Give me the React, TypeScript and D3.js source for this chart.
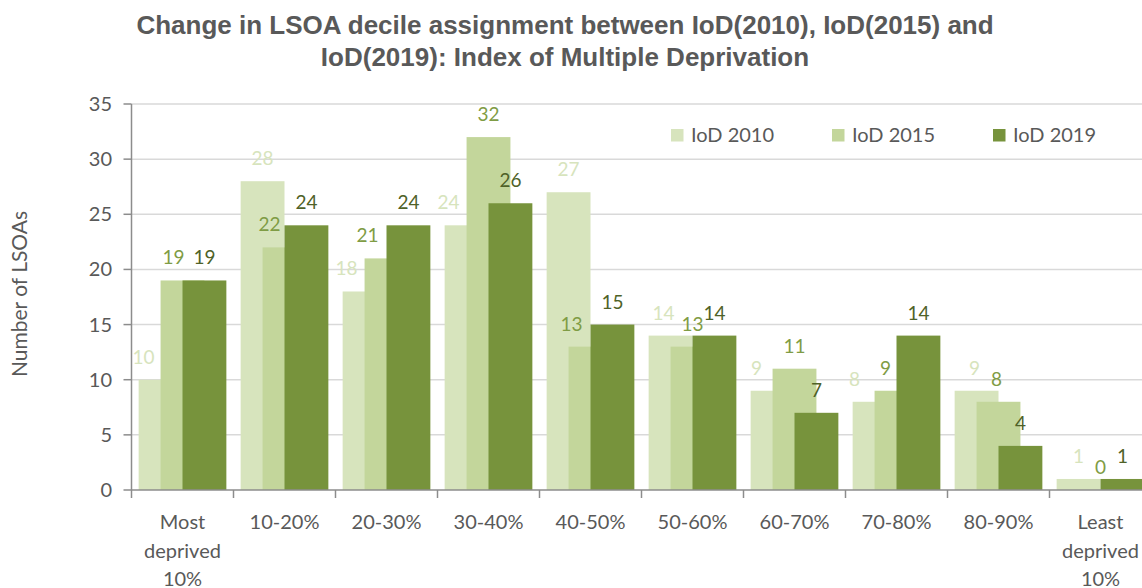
import React, { useEffect, useRef } from 'react';
import * as d3 from 'd3';

// Categories (LSOA deciles)
const categories = [
  'Most deprived 10%', '10-20%', '20-30%', '30-40%', '40-50%',
  '50-60%', '60-70%', '70-80%', '80-90%', 'Least deprived 10%'
];
const categoryLines = [
  ['Most', 'deprived', '10%'], ['10-20%'], ['20-30%'], ['30-40%'], ['40-50%'],
  ['50-60%'], ['60-70%'], ['70-80%'], ['80-90%'], ['Least', 'deprived', '10%']
];

const seriesNames = ['IoD 2010', 'IoD 2015', 'IoD 2019'];
const iod2010 = [10, 28, 18, 24, 27, 14, 9, 8, 9, 1];
const iod2015 = [19, 22, 21, 32, 13, 13, 11, 9, 8, 0];
const iod2019 = [19, 24, 24, 26, 15, 14, 7, 14, 4, 1];

const yTicks = [0, 5, 10, 15, 20, 25, 30, 35];

// data labels were dragged sideways in the original so they don't collide
const labelNudge2010 = [-17, 0, -18, -18, 0, -7, -16, -20, -2, 0];
const labelNudge2015 = [-9, -15, -19, 0, -19, 0, 0, -11, -2, 0];
const labelNudge2019 = [0, 0, 0, 0, 0, 0, 0, 0, 0, 0];

const barColors = ['#d7e4bd', '#c3d69b', '#77933c'];
const labelColors = ['#d7e4bd', '#7f9c45', '#4f6228'];
const textGrey = '#595959';
const font = "Lato, 'Open Sans', sans-serif";

export default function App() {
  const svgRef = useRef<SVGSVGElement | null>(null);
  const width = 1142;
  const height = 588;

  useEffect(() => {
    if (!svgRef.current) return;
    const svg = d3.select(svgRef.current);
    svg.selectAll('*').remove();

    const left = 131.5;
    const bottom = 490;
    const top = 104;

    const x = d3.scaleBand<string>()
      .domain(categories)
      .range([left, left + 102 * categories.length])
      .padding(0);
    const y = d3.scaleLinear().domain([0, 35]).range([bottom, top]);

    const bw = x.bandwidth();
    const pad = bw * 0.07;
    const barW = (bw - 2 * pad) / 2;
    const step = barW / 2;

    // Gridlines
    svg.append('g')
      .selectAll('line')
      .data(yTicks.filter(t => t > 0))
      .enter()
      .append('line')
      .attr('x1', left)
      .attr('x2', width)
      .attr('y1', d => y(d))
      .attr('y2', d => y(d))
      .attr('stroke', '#d9d9d9')
      .attr('stroke-width', 1.5);

    // Bars, drawn in series order so later ones overlap earlier ones
    const series = [iod2010, iod2015, iod2019];
    const nudges = [labelNudge2010, labelNudge2015, labelNudge2019];

    series.forEach((vals, si) => {
      svg.append('g')
        .selectAll('rect')
        .data(vals)
        .enter()
        .append('rect')
        .attr('x', (d, i) => (x(categories[i]) as number) + pad + si * step)
        .attr('y', d => y(d))
        .attr('width', barW)
        .attr('height', d => bottom - y(d))
        .attr('fill', barColors[si]);
    });

    // Data labels
    series.forEach((vals, si) => {
      svg.append('g')
        .selectAll('text')
        .data(vals)
        .enter()
        .append('text')
        .attr('x', (d, i) => (x(categories[i]) as number) + pad + si * step + barW / 2 + nudges[si][i])
        .attr('y', d => y(d) - 16)
        .attr('text-anchor', 'middle')
        .attr('fill', labelColors[si])
        .attr('font-family', font)
        .attr('font-size', '19px')
        .text(d => d);
    });

    // Axes
    const axisColor = '#8c8c8c';
    svg.append('line')
      .attr('x1', left).attr('x2', width)
      .attr('y1', bottom).attr('y2', bottom)
      .attr('stroke', axisColor).attr('stroke-width', 1.5);
    svg.append('line')
      .attr('x1', left).attr('x2', left)
      .attr('y1', top).attr('y2', bottom)
      .attr('stroke', axisColor).attr('stroke-width', 1.5);

    // Y ticks + labels
    const yt = svg.append('g');
    yTicks.forEach(t => {
      yt.append('line')
        .attr('x1', left - 8).attr('x2', left)
        .attr('y1', y(t)).attr('y2', y(t))
        .attr('stroke', axisColor).attr('stroke-width', 1.5);
      yt.append('text')
        .attr('x', 112)
        .attr('y', y(t) + 7)
        .attr('text-anchor', 'end')
        .attr('fill', textGrey)
        .attr('font-family', font)
        .attr('font-size', '20px')
        .text(t);
    });

    // X ticks between categories
    const xt = svg.append('g');
    categories.forEach((c, i) => {
      const x0 = x(c) as number;
      xt.append('line')
        .attr('x1', x0).attr('x2', x0)
        .attr('y1', bottom).attr('y2', bottom + 8)
        .attr('stroke', axisColor).attr('stroke-width', 1.5);
      const label = xt.append('text')
        .attr('text-anchor', 'middle')
        .attr('fill', textGrey)
        .attr('font-family', font)
        .attr('font-size', '20px');
      categoryLines[i].forEach((line, li) => {
        label.append('tspan')
          .attr('x', x0 + bw / 2)
          .attr('y', 529 + li * 28.5)
          .text(line);
      });
    });

    // Y axis title
    svg.append('text')
      .attr('transform', 'translate(27,294) rotate(-90)')
      .attr('text-anchor', 'middle')
      .attr('fill', textGrey)
      .attr('font-family', font)
      .attr('font-size', '21px')
      .text('Number of LSOAs');

    // Title
    const title = svg.append('text')
      .attr('text-anchor', 'middle')
      .attr('fill', textGrey)
      .attr('font-family', "'Liberation Sans', Arial, sans-serif")
      .attr('font-weight', '700')
      .attr('font-size', '26px');
    title.append('tspan').attr('x', 565).attr('y', 34)
      .text('Change in LSOA decile assignment between IoD(2010), IoD(2015) and');
    title.append('tspan').attr('x', 565).attr('y', 66)
      .text('IoD(2019): Index of Multiple Deprivation');

    // Legend
    const legendX = [671, 832, 993];
    const legend = svg.append('g');
    seriesNames.forEach((name, i) => {
      legend.append('rect')
        .attr('x', legendX[i]).attr('y', 129)
        .attr('width', 12.5).attr('height', 12.5)
        .attr('fill', barColors[i]);
      legend.append('text')
        .attr('x', legendX[i] + 20)
        .attr('y', 142)
        .attr('fill', textGrey)
        .attr('font-family', font)
        .attr('font-size', '20px')
        .text(name);
    });
  }, []);

  return (
    <svg
      ref={svgRef}
      width={width}
      height={height}
      style={{ position: 'absolute', left: 0, top: 0, background: '#fff' }}
    />
  );
}
